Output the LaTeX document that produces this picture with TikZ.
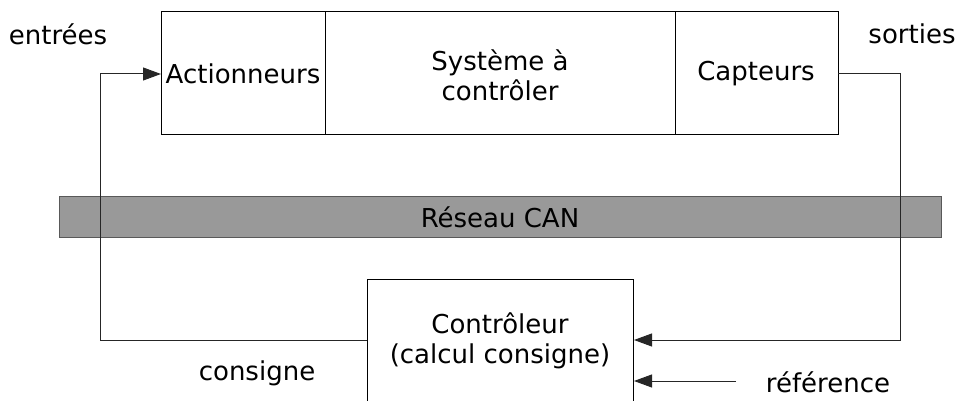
\documentclass[tikz,border=0pt]{standalone}
\usepackage{fontspec}
\setmainfont{DejaVu Sans}
\usetikzlibrary{arrows.meta}
\begin{document}
\begin{tikzpicture}[x=1pt,y=-1pt,
  txt/.style={font=\fontsize{26}{30}\selectfont, inner sep=0pt, align=center},
  box/.style={draw=black, line width=1pt},
  wire/.style={draw=black!85, line width=1pt},
  arr/.style={wire, -{Triangle[length=18pt,width=13pt]}}]
\useasboundingbox (0,0) rectangle (959,401);
% top boxes
\draw[box] (161,12) rectangle (838,135);
\draw[box] (325,12) -- (325,135);
\draw[box] (675,12) -- (675,135);
\node[txt] (act) at (243,74) {Actionneurs};
\node[txt] (sys) at (500,75) {Système à\\contrôler};
\node[txt] (cap) at (756,74) {Capteurs};
\coordinate (actW) at (161,74);
\coordinate (capE) at (838,74);
% CAN bar
\draw[fill=black!40, draw=black!65, line width=1pt] (59,197) rectangle (941,237);
\node[txt] (can) at (500,217) {Réseau CAN};
% controller
\draw[box] (367,401.5) -- (367,279) -- (633,279) -- (633,401.5);
\node[txt] (ctl) at (500,341) {Contrôleur\\(calcul consigne)};
\coordinate (ctlW) at (367,340);
\coordinate (ctlE1) at (634,340);
\coordinate (ctlE2) at (634,381);
\coordinate (refS) at (736,381);
% labels
\node[txt] (in) at (58,34) {entrées};
\node[txt] (out) at (912,34) {sorties};
\node[txt] (cons) at (257,373) {consigne};
\node[txt] (ref) at (828,382) {référence};
% connectors
\draw[arr] (ctlW) -| (100,74) -- (actW);
\draw[arr] (capE) -| (900,340) -- (ctlE1);
\draw[arr] (refS) -- (ctlE2);
\end{tikzpicture}
\end{document}
